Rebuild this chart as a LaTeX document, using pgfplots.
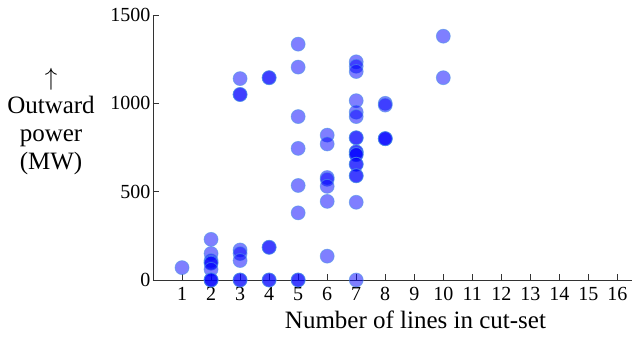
\documentclass[border=0pt]{standalone}
\usepackage{fontspec}
\setmainfont{Liberation Serif}
\usepackage{pgfplots}
\pgfplotsset{compat=1.18}
\definecolor{ringc}{RGB}{80,150,230}
\begin{document}
\begin{tikzpicture}[font=\fontsize{20}{24}\selectfont]
\begin{axis}[name=ax, scale only axis, width=479pt, height=265pt,
  xmin=0, xmax=16.5, ymin=0, ymax=1500,
  axis x line*=bottom, axis y line*=left,
  xtick={1,...,16}, ytick={0,500,1000,1500},
  tick align=inside, major tick length=6pt,
  /pgf/number format/assume math mode=true,
  /pgf/number format/1000 sep={},
  clip=false,
  tick label style={font=\fontsize{20}{24}\selectfont},
  xticklabel style={yshift=-4pt},
  yticklabel style={xshift=1pt},
  axis line style={black!80, line width=0.8pt},
  tick style={black!80, line width=0.8pt},
  xlabel={Number of lines in cut-set},
  xlabel style={font=\fontsize{25}{28}\selectfont, yshift=-3pt, xshift=23pt},
]
\addplot[only marks, mark=*, mark size=7pt,
  mark options={fill=blue, fill opacity=0.5, draw=ringc, draw opacity=0.6, line width=0.8pt}]
coordinates {
(1,70)
(2,230)(2,150)(2,110)(2,100)(2,95)(2,60)(2,0)(2,0)(2,0)
(3,1140)(3,1050)(3,1050)(3,170)(3,150)(3,110)(3,0)(3,0)
(4,1145)(4,1145)(4,185)(4,185)(4,0)(4,0)
(5,1335)(5,1205)(5,925)(5,745)(5,535)(5,380)(5,0)(5,0)
(6,820)(6,770)(6,580)(6,570)(6,530)(6,445)(6,135)
(7,1235)(7,1210)(7,1180)(7,1015)(7,950)(7,925)(7,805)(7,805)(7,725)(7,725)(7,710)(7,710)(7,655)(7,655)(7,590)(7,590)(7,440)(7,0)
(8,1000)(8,990)(8,800)(8,800)(8,800)
(10,1380)(10,1145)
};
\end{axis}
\node[align=center, font=\fontsize{25}{28}\selectfont] at ([xshift=-102pt, yshift=26pt]ax.west) {$\uparrow$\\Outward\\power\\(MW)};
\path ([xshift=-153pt,yshift=-64pt]ax.south west) rectangle ([xshift=1pt,yshift=15pt]ax.north east);
\end{tikzpicture}
\end{document}
